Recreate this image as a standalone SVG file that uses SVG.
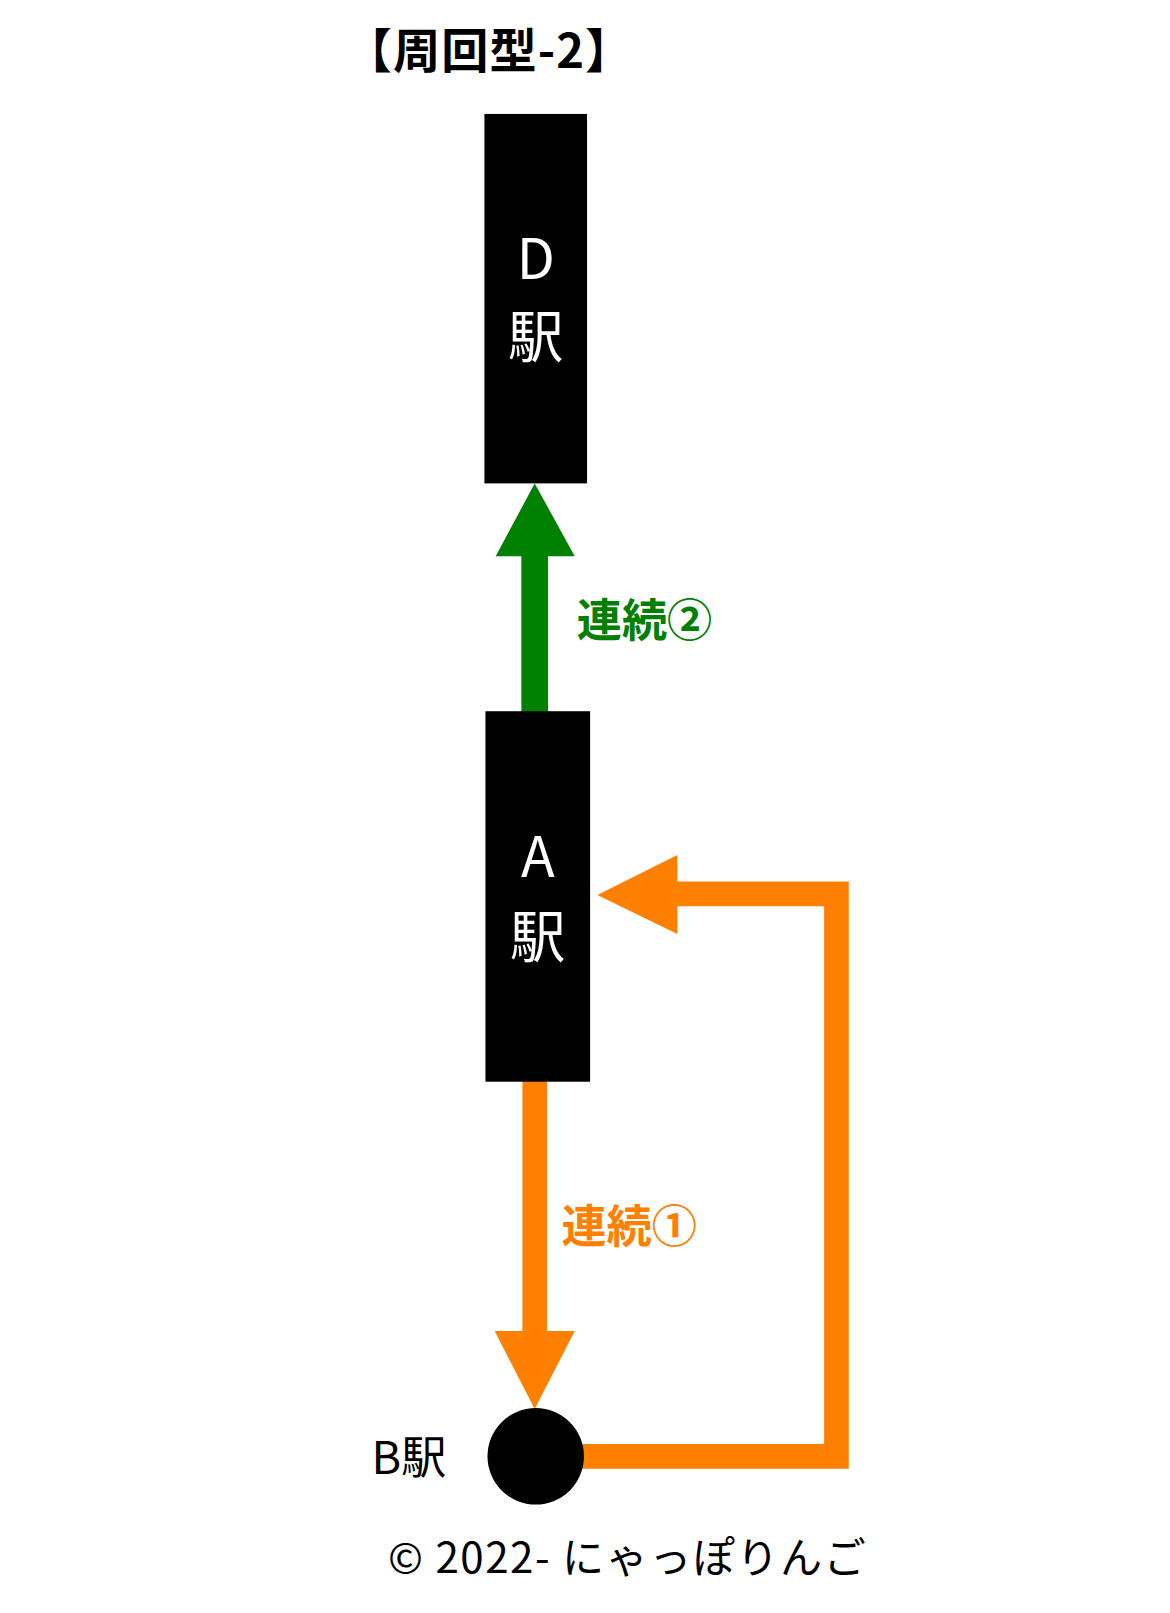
<svg xmlns="http://www.w3.org/2000/svg" width="1170" height="1613" viewBox="0 0 1170 1613">
<style>
.t{font-family:"Noto Sans CJK JP","Noto Sans",sans-serif}
.w{fill:#fff;font-size:54px;text-anchor:middle}
</style>
<rect width="1170" height="1613" fill="#fff"/>
<g transform="scale(1.0263)">
<text class="t" x="336" y="66" font-size="46" font-weight="bold" letter-spacing="1">【周回型-2】</text>
<g id="connectors">
<line x1="521" y1="694" x2="521" y2="535" stroke="#008000" stroke-width="26"/>
<polygon points="521,471 483,542 560,542" fill="#008000"/>
<line x1="521" y1="1053" x2="521" y2="1310" stroke="#ff8000" stroke-width="24"/>
<polygon points="521,1373 482,1297 560,1297" fill="#ff8000"/>
<polyline points="560,1419 815,1419 815,871 640,871" fill="none" stroke="#ff8000" stroke-width="24"/>
<polygon points="582,872 660,833 660,910" fill="#ff8000"/>
</g>
<g id="D"><rect x="472" y="111" width="100" height="360" fill="#000"/>
<text class="t w" x="522" y="272">D</text><text class="t w" x="522" y="348">駅</text></g>
<g id="A"><rect x="473" y="693" width="102" height="361" fill="#000"/>
<text class="t w" x="524" y="855">A</text><text class="t w" x="524" y="932">駅</text></g>
<g id="B"><circle cx="522" cy="1419" r="47" fill="#000"/>
<text class="t" x="362" y="1436" font-size="44">B駅</text></g>
<text class="t" x="562" y="621" font-size="44" font-weight="bold" fill="#008000">連続②</text>
<text class="t" x="547" y="1211" font-size="44" font-weight="bold" fill="#ff8000">連続①</text>
<text class="t" x="378" y="1533" font-size="41" letter-spacing="1.5">© 2022- にゃっぽりんご</text>
</g>
</svg>
